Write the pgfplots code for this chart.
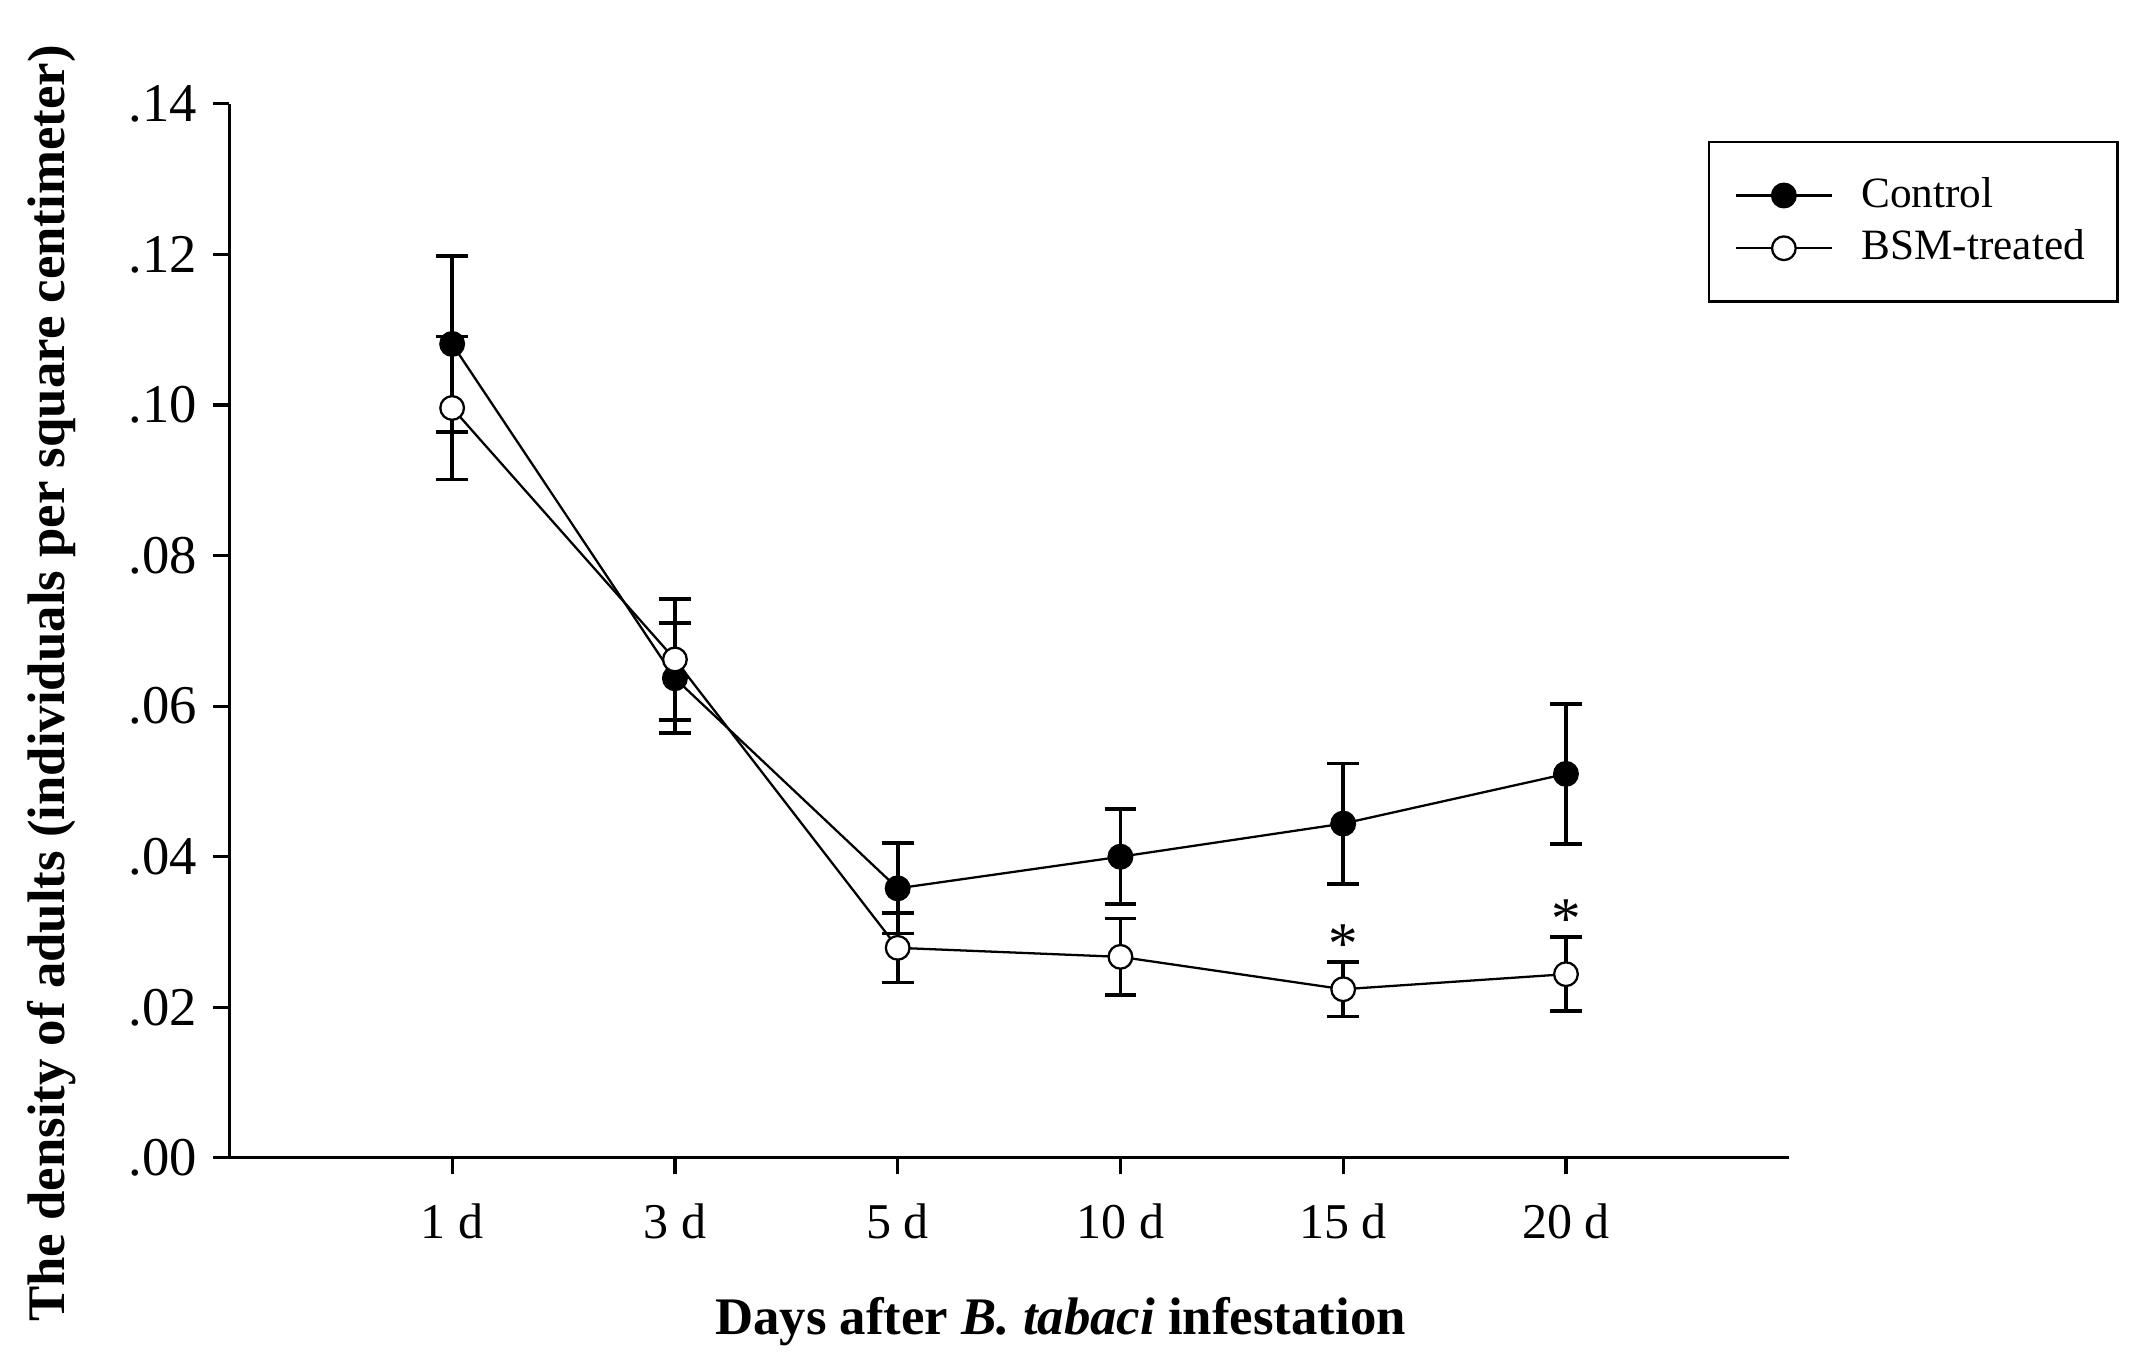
\documentclass[border=0pt]{standalone}
\usepackage{fontspec}
\setmainfont{Liberation Serif}
\usepackage{pgfplots}
\pgfplotsset{compat=1.18}
\usepackage{pgfplotstable}

\pgfplotstableread{
x y err
0 0.1081 0.0117
1 0.0637 0.0073
2 0.0358 0.0060
3 0.0400 0.0063
4 0.0444 0.0080
5 0.0510 0.0093
}\control
\pgfplotstableread{
x y err
0 0.0996 0.0095
1 0.0662 0.0080
2 0.0279 0.0046
3 0.0267 0.0051
4 0.0224 0.0036
5 0.0244 0.0049
}\bsm

\begin{document}
\begin{tikzpicture}
\begin{axis}[
  scale only axis, width=342.6pt, height=231.6pt,
  xmin=-1, xmax=6, ymin=0, ymax=0.14,
  axis x line=bottom, axis y line=left,
  axis line style={-, line width=0.7pt},
  xtick={0,1,2,3,4,5}, xticklabels={1 d,3 d,5 d,10 d,15 d,20 d},
  ytick={0,0.02,0.04,0.06,0.08,0.10,0.12,0.14},
  yticklabels={.00,.02,.04,.06,.08,.10,.12,.14},
  scaled y ticks=false,
  tick align=outside, major tick length=3.6pt,
  tick style={line width=0.7pt, black},
  xticklabel style={font=\fontsize{11}{13}\selectfont, yshift=-3pt},
  yticklabel style={font=\fontsize{12}{14}\selectfont},
  xlabel={Days after \textit{B. tabaci} infestation},
  ylabel={The density of adults (individuals per square centimeter)},
  label style={font=\bfseries\fontsize{11.6}{14}\selectfont},
  xlabel style={at={(axis description cs:0.533,-0.1554)}, anchor=center},
  ylabel style={at={(axis description cs:-0.1138,0.45)}, anchor=center},
  legend style={at={(axis description cs:0.948,0.965)}, anchor=north west,
    draw=black, line width=0.6pt, font=\fontsize{9.5}{11}\selectfont,
    inner xsep=5.7pt, inner ysep=6.2pt, row sep=0.5pt, nodes={inner sep=1.5pt},
    /tikz/every odd column/.append style={column sep=4.8pt}},
  legend cell align=left,
  legend image code/.code={\draw[mark repeat=2,mark phase=2,#1] plot coordinates {(0pt,0pt) (10.5pt,0pt) (21pt,0pt)};},
  clip=false,
  error bars/error bar style={line width=0.8pt, black},
]
\addplot[black, line width=0.5pt, mark=*, mark size=2.6pt, mark options={fill=black, draw=black, line width=0.5pt},
  error bars/.cd, y dir=both, y explicit,
  error mark options={rotate=90, mark size=3.5pt, line width=0.8pt, black}]
  table[x=x, y=y, y error=err] {\control};
\addlegendentry{Control}
\addplot[black, line width=0.5pt, mark=*, mark size=2.6pt, mark options={fill=white, draw=black, line width=0.5pt},
  error bars/.cd, y dir=both, y explicit,
  error mark options={rotate=90, mark size=3.5pt, line width=0.8pt, black}]
  table[x=x, y=y, y error=err] {\bsm};
\addlegendentry{BSM-treated}
\node[font=\fontsize{13}{13}\selectfont, anchor=center, yshift=-1.7pt] at (axis cs:4,0.0294) {*};
\node[font=\fontsize{13}{13}\selectfont, anchor=center, yshift=-1.7pt] at (axis cs:5,0.0327) {*};
\coordinate (O) at (rel axis cs:0,0);
\coordinate (T) at (rel axis cs:1,1);
\end{axis}
\path ([xshift=-50.4pt,yshift=-45.9pt]O) rectangle ([xshift=77.4pt,yshift=22.8pt]T);
\end{tikzpicture}
\end{document}
